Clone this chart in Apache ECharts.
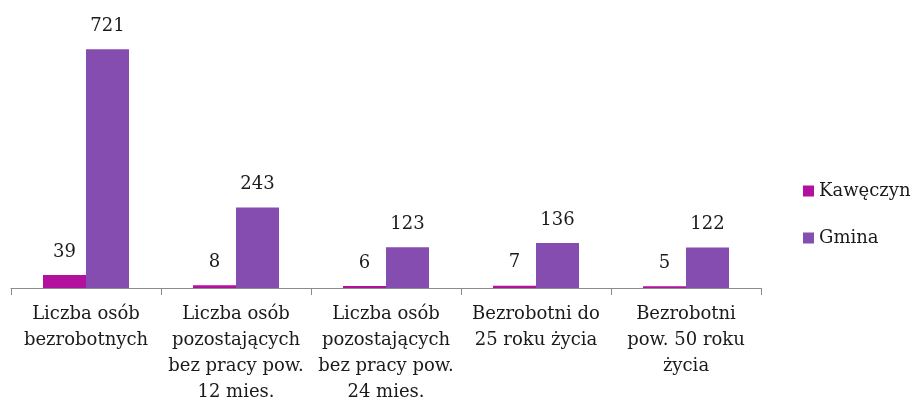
<!DOCTYPE html>
<html>
<head>
<meta charset="utf-8">
<script src="https://cdn.jsdelivr.net/npm/echarts@6/dist/echarts.min.js"></script>
<style>
html, body { margin: 0; padding: 0; background: #fff; }
#chart { width: 919px; height: 405px; }
</style>
</head>
<body>
<div id="chart"></div>
<script>
var categories = [
  'Liczba osób\nbezrobotnych',
  'Liczba osób\npozostających\nbez pracy pow.\n12 mies.',
  'Liczba osób\npozostających\nbez pracy pow.\n24 mies.',
  'Bezrobotni do\n25 roku życia',
  'Bezrobotni\npow. 50 roku\nżycia'
];
var kaweczyn = [39, 8, 6, 7, 5];
var gmina = [721, 243, 123, 136, 122];

var font = "'DejaVu Serif', serif";
var myChart = echarts.init(document.getElementById('chart'));
option = {
  animation: false,
  textStyle: { fontFamily: font },
  grid: { left: 11, top: 23, width: 750, height: 265 },
  legend: {
    orient: 'vertical',
    left: 798,
    top: 177,
    itemWidth: 11,
    itemHeight: 11,
    itemGap: 29,
    icon: 'rect',
    textStyle: { fontFamily: font, fontSize: 18, color: '#1a1a1a' },
    data: ['Kawęczyn', 'Gmina']
  },
  xAxis: {
    type: 'category',
    data: categories,
    axisLine: { lineStyle: { color: '#8c8c8c', width: 1 } },
    axisTick: { show: true, alignWithLabel: false, length: 7, lineStyle: { color: '#8c8c8c' } },
    axisLabel: {
      interval: 0,
      margin: 13,
      fontFamily: font,
      fontSize: 18,
      lineHeight: 26,
      color: '#1a1a1a'
    }
  },
  yAxis: {
    type: 'value',
    min: 0,
    max: 800,
    show: false,
    splitLine: { show: false }
  },
  series: [
    {
      name: 'Kawęczyn',
      type: 'bar',
      data: kaweczyn,
      barWidth: 43,
      barGap: '0%',
      itemStyle: { color: '#b3119d' },
      label: { show: true, position: 'top', distance: 14, fontFamily: font, fontSize: 18, color: '#1a1a1a' }
    },
    {
      name: 'Gmina',
      type: 'bar',
      data: gmina,
      barWidth: 43,
      barGap: '0%',
      itemStyle: { color: '#844daf' },
      label: { show: true, position: 'top', distance: 14, fontFamily: font, fontSize: 18, color: '#1a1a1a' }
    }
  ]
};
myChart.setOption(option);
</script>
</body>
</html>
